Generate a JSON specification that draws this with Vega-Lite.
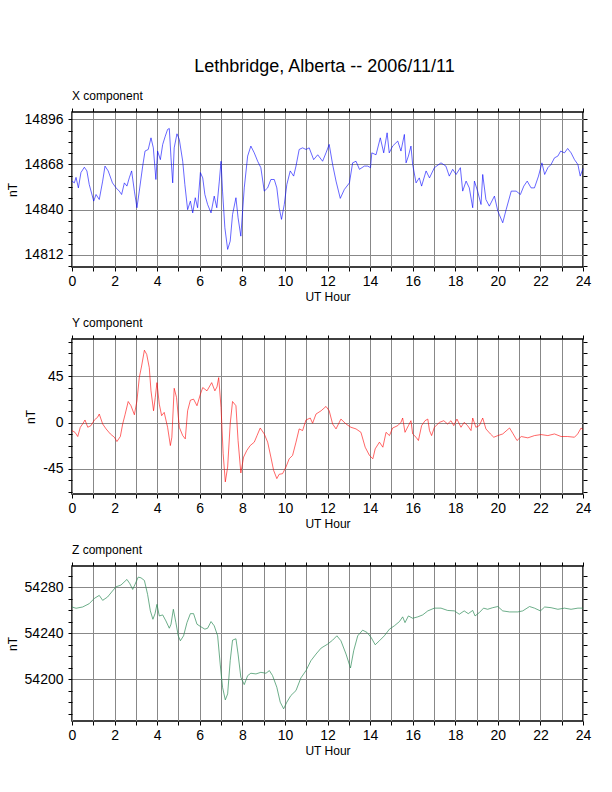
{
"$schema":"https://vega.github.io/schema/vega-lite/v6.json",
"padding":{"left":5,"top":57,"right":0,"bottom":0},
"background":"white",
"title":{"text":"Lethbridge, Alberta -- 2006/11/11","fontSize":18,"fontWeight":"normal","font":"Liberation Sans","anchor":"middle","offset":13,"dx":26,"color":"black"},
"config":{"font":"Liberation Sans","view":{"stroke":"black","strokeWidth":1.5},"axis":{"labelFont":"Liberation Sans","titleFont":"Liberation Sans","labelColor":"black","titleColor":"black","tickColor":"black","domain":false},"title":{"font":"Liberation Sans","color":"black"}},
"spacing":12,
"datasets":{
"x":[{"t":0,"v":14857.7},{"t":0.11,"v":14856.6},{"t":0.19,"v":14860},{"t":0.3,"v":14853.5},{"t":0.42,"v":14863},{"t":0.58,"v":14866.3},{"t":0.7,"v":14864},{"t":0.81,"v":14855.6},{"t":1.02,"v":14845.3},{"t":1.13,"v":14849.4},{"t":1.28,"v":14846.3},{"t":1.44,"v":14857.7},{"t":1.55,"v":14867},{"t":1.7,"v":14864},{"t":1.9,"v":14856.6},{"t":2.07,"v":14853.5},{"t":2.22,"v":14851.5},{"t":2.33,"v":14849.4},{"t":2.46,"v":14856.6},{"t":2.58,"v":14854.6},{"t":2.69,"v":14859.7},{"t":2.8,"v":14864},{"t":2.93,"v":14851.5},{"t":3.05,"v":14841.2},{"t":3.16,"v":14851.5},{"t":3.32,"v":14867},{"t":3.43,"v":14876.3},{"t":3.58,"v":14877.3},{"t":3.71,"v":14884.5},{"t":3.82,"v":14878.3},{"t":3.94,"v":14858.7},{"t":4.02,"v":14876.3},{"t":4.15,"v":14871},{"t":4.26,"v":14880.4},{"t":4.38,"v":14885.5},{"t":4.49,"v":14889.7},{"t":4.57,"v":14890.3},{"t":4.65,"v":14872.1},{"t":4.73,"v":14856.6},{"t":4.8,"v":14878.3},{"t":4.93,"v":14887},{"t":5.04,"v":14883.5},{"t":5.2,"v":14870},{"t":5.3,"v":14855.6},{"t":5.43,"v":14840},{"t":5.56,"v":14845.3},{"t":5.67,"v":14838},{"t":5.79,"v":14847.4},{"t":5.9,"v":14841.2},{"t":6.03,"v":14863},{"t":6.14,"v":14859.7},{"t":6.24,"v":14849.4},{"t":6.37,"v":14843.2},{"t":6.53,"v":14838},{"t":6.68,"v":14848.4},{"t":6.8,"v":14841.2},{"t":6.92,"v":14857.7},{"t":7.0,"v":14870},{"t":7.07,"v":14851.5},{"t":7.18,"v":14828.8},{"t":7.31,"v":14815.4},{"t":7.43,"v":14820.5},{"t":7.54,"v":14837},{"t":7.7,"v":14847.4},{"t":7.8,"v":14835},{"t":7.93,"v":14823.6},{"t":8.09,"v":14853.5},{"t":8.25,"v":14873.2},{"t":8.4,"v":14879.4},{"t":8.56,"v":14875.2},{"t":8.72,"v":14870},{"t":8.87,"v":14866},{"t":9.03,"v":14851.5},{"t":9.19,"v":14853.5},{"t":9.34,"v":14858.7},{"t":9.5,"v":14858.7},{"t":9.62,"v":14853.5},{"t":9.73,"v":14841.2},{"t":9.84,"v":14834},{"t":9.97,"v":14843.2},{"t":10.09,"v":14855.6},{"t":10.25,"v":14864},{"t":10.41,"v":14860.8},{"t":10.52,"v":14867},{"t":10.67,"v":14877.3},{"t":10.83,"v":14878.3},{"t":10.99,"v":14877.3},{"t":11.14,"v":14878.3},{"t":11.35,"v":14871},{"t":11.54,"v":14874},{"t":11.77,"v":14870},{"t":11.93,"v":14875.2},{"t":12.08,"v":14880.4},{"t":12.24,"v":14868},{"t":12.4,"v":14857.7},{"t":12.6,"v":14847},{"t":12.79,"v":14852.5},{"t":13.03,"v":14856.6},{"t":13.18,"v":14869},{"t":13.34,"v":14870},{"t":13.5,"v":14865},{"t":13.73,"v":14867},{"t":13.89,"v":14867},{"t":14.02,"v":14866},{"t":14.08,"v":14875.2},{"t":14.28,"v":14874},{"t":14.48,"v":14884.5},{"t":14.64,"v":14875.2},{"t":14.8,"v":14887.6},{"t":14.9,"v":14875.2},{"t":15.06,"v":14879.4},{"t":15.3,"v":14882.5},{"t":15.45,"v":14876.3},{"t":15.61,"v":14886.6},{"t":15.69,"v":14869},{"t":15.8,"v":14873.2},{"t":15.92,"v":14879.4},{"t":16.0,"v":14868},{"t":16.16,"v":14856.6},{"t":16.31,"v":14859.7},{"t":16.42,"v":14854.6},{"t":16.63,"v":14864},{"t":16.79,"v":14859.7},{"t":17.02,"v":14866},{"t":17.33,"v":14869},{"t":17.56,"v":14867},{"t":17.72,"v":14860.8},{"t":17.88,"v":14865},{"t":18.04,"v":14861.8},{"t":18.24,"v":14866},{"t":18.35,"v":14851.5},{"t":18.51,"v":14857.7},{"t":18.66,"v":14853.5},{"t":18.82,"v":14841.2},{"t":18.9,"v":14857.7},{"t":19.05,"v":14851.5},{"t":19.21,"v":14843.2},{"t":19.29,"v":14861.8},{"t":19.44,"v":14846.3},{"t":19.6,"v":14842.2},{"t":19.84,"v":14848.4},{"t":20.0,"v":14839.1},{"t":20.23,"v":14831.9},{"t":20.39,"v":14840},{"t":20.63,"v":14851.5},{"t":20.86,"v":14851.5},{"t":21.06,"v":14849.4},{"t":21.22,"v":14854.6},{"t":21.38,"v":14857.7},{"t":21.56,"v":14853.5},{"t":21.72,"v":14853.5},{"t":21.91,"v":14860.8},{"t":22.07,"v":14869},{"t":22.2,"v":14861.8},{"t":22.35,"v":14866},{"t":22.5,"v":14868},{"t":22.66,"v":14872.1},{"t":22.82,"v":14873.2},{"t":22.95,"v":14876.3},{"t":23.13,"v":14875.2},{"t":23.28,"v":14877.9},{"t":23.44,"v":14875.2},{"t":23.6,"v":14871},{"t":23.76,"v":14868},{"t":23.87,"v":14860.8},{"t":24.0,"v":14865.5}],
"y":[{"t":0.0,"v":-7.7},{"t":0.14,"v":-9.4},{"t":0.27,"v":-13.5},{"t":0.39,"v":-4.5},{"t":0.5,"v":-1.3},{"t":0.61,"v":2.6},{"t":0.74,"v":-4.5},{"t":0.89,"v":-2.9},{"t":1.05,"v":2.6},{"t":1.2,"v":5.2},{"t":1.28,"v":8.4},{"t":1.44,"v":-1.3},{"t":1.6,"v":-6.1},{"t":1.8,"v":-11},{"t":1.99,"v":-14.2},{"t":2.11,"v":-18.4},{"t":2.27,"v":-13.5},{"t":2.38,"v":-1.3},{"t":2.49,"v":7.7},{"t":2.64,"v":20.6},{"t":2.77,"v":16.5},{"t":2.93,"v":7.7},{"t":3.05,"v":21.3},{"t":3.16,"v":43.9},{"t":3.27,"v":55.2},{"t":3.4,"v":70.6},{"t":3.51,"v":66.5},{"t":3.63,"v":53.5},{"t":3.71,"v":31},{"t":3.83,"v":11.6},{"t":3.91,"v":24.5},{"t":3.99,"v":39},{"t":4.1,"v":18},{"t":4.21,"v":6.8},{"t":4.33,"v":10},{"t":4.49,"v":-4.5},{"t":4.62,"v":-22.3},{"t":4.69,"v":-14.2},{"t":4.8,"v":33.5},{"t":4.91,"v":24.5},{"t":5.04,"v":-4.5},{"t":5.2,"v":-12.6},{"t":5.32,"v":-15.8},{"t":5.43,"v":11.6},{"t":5.56,"v":21.9},{"t":5.71,"v":22.9},{"t":5.87,"v":16.5},{"t":6.03,"v":27.7},{"t":6.14,"v":34.2},{"t":6.34,"v":31},{"t":6.56,"v":39},{"t":6.71,"v":31},{"t":6.81,"v":34.8},{"t":6.89,"v":43.9},{"t":7.0,"v":14.8},{"t":7.1,"v":-30.3},{"t":7.2,"v":-57.7},{"t":7.31,"v":-43.2},{"t":7.43,"v":-1.3},{"t":7.54,"v":20.6},{"t":7.7,"v":16.5},{"t":7.8,"v":-17.4},{"t":7.93,"v":-49},{"t":8.06,"v":-33.5},{"t":8.21,"v":-27.1},{"t":8.37,"v":-22.3},{"t":8.56,"v":-19},{"t":8.69,"v":-12.6},{"t":8.84,"v":-5.2},{"t":9.03,"v":-11},{"t":9.19,"v":-19},{"t":9.34,"v":-33.5},{"t":9.47,"v":-46.5},{"t":9.62,"v":-54.5},{"t":9.73,"v":-50.3},{"t":9.89,"v":-49.7},{"t":10.05,"v":-43.2},{"t":10.2,"v":-35.2},{"t":10.36,"v":-31.9},{"t":10.52,"v":-19},{"t":10.67,"v":-6.1},{"t":10.83,"v":-7.7},{"t":10.99,"v":2.6},{"t":11.19,"v":4.5},{"t":11.3,"v":-0.6},{"t":11.46,"v":8.4},{"t":11.7,"v":11.6},{"t":11.93,"v":15.8},{"t":12.08,"v":11.6},{"t":12.24,"v":-1.3},{"t":12.4,"v":-6.1},{"t":12.63,"v":3.5},{"t":12.87,"v":-1.3},{"t":13.1,"v":-4.5},{"t":13.34,"v":-6.1},{"t":13.57,"v":-9.4},{"t":13.77,"v":-23.9},{"t":13.97,"v":-31.9},{"t":14.13,"v":-35.2},{"t":14.24,"v":-25.5},{"t":14.44,"v":-19},{"t":14.6,"v":-23.9},{"t":14.75,"v":-9.4},{"t":14.91,"v":-12.6},{"t":15.06,"v":-5.2},{"t":15.3,"v":-2.9},{"t":15.45,"v":0.3},{"t":15.53,"v":4.5},{"t":15.64,"v":-9.4},{"t":15.8,"v":-2.9},{"t":15.92,"v":1.9},{"t":16.0,"v":-11},{"t":16.16,"v":-14.2},{"t":16.27,"v":-17.4},{"t":16.42,"v":-2.9},{"t":16.58,"v":1.9},{"t":16.71,"v":3.5},{"t":16.79,"v":-7.7},{"t":16.89,"v":-12.6},{"t":17.02,"v":-4.5},{"t":17.26,"v":0.3},{"t":17.46,"v":1.9},{"t":17.64,"v":-1.3},{"t":17.8,"v":1.9},{"t":17.93,"v":-2.9},{"t":18.08,"v":3.5},{"t":18.27,"v":-4.5},{"t":18.42,"v":0.3},{"t":18.58,"v":-2.9},{"t":18.74,"v":-7.7},{"t":18.82,"v":4.5},{"t":18.97,"v":-4.5},{"t":19.13,"v":-2.9},{"t":19.29,"v":4.5},{"t":19.44,"v":-6.1},{"t":19.65,"v":-11},{"t":19.81,"v":-14.2},{"t":20.0,"v":-12.6},{"t":20.23,"v":-11},{"t":20.55,"v":-5.2},{"t":20.7,"v":-10.3},{"t":20.9,"v":-17.4},{"t":21.1,"v":-13.5},{"t":21.41,"v":-14.8},{"t":21.72,"v":-12.6},{"t":22.03,"v":-11.6},{"t":22.35,"v":-12.6},{"t":22.66,"v":-11},{"t":22.97,"v":-13.5},{"t":23.28,"v":-13.5},{"t":23.6,"v":-14.2},{"t":23.75,"v":-11},{"t":23.91,"v":-5.2},{"t":24.0,"v":-7}],
"z":[{"t":0.0,"v":54262.8},{"t":0.19,"v":54261.7},{"t":0.5,"v":54262.8},{"t":0.81,"v":54265.7},{"t":1.05,"v":54270.3},{"t":1.28,"v":54272.9},{"t":1.44,"v":54268.6},{"t":1.67,"v":54271.5},{"t":1.9,"v":54276.7},{"t":2.07,"v":54280.4},{"t":2.3,"v":54281.9},{"t":2.58,"v":54286.8},{"t":2.72,"v":54283},{"t":2.85,"v":54278.1},{"t":2.96,"v":54282.5},{"t":3.11,"v":54288.8},{"t":3.24,"v":54288.2},{"t":3.4,"v":54285.9},{"t":3.55,"v":54273.8},{"t":3.68,"v":54259.4},{"t":3.8,"v":54252.1},{"t":3.9,"v":54257},{"t":3.99,"v":54265.1},{"t":4.1,"v":54255},{"t":4.26,"v":54255.9},{"t":4.41,"v":54250.7},{"t":4.57,"v":54244.3},{"t":4.65,"v":54247.8},{"t":4.76,"v":54260.8},{"t":4.88,"v":54249.2},{"t":4.99,"v":54237.7},{"t":5.09,"v":54233.4},{"t":5.24,"v":54237.7},{"t":5.4,"v":54249.2},{"t":5.56,"v":54257},{"t":5.71,"v":54257},{"t":5.87,"v":54247.8},{"t":6.06,"v":54245.5},{"t":6.24,"v":54243.5},{"t":6.37,"v":54244.3},{"t":6.53,"v":54250.1},{"t":6.68,"v":54246.4},{"t":6.84,"v":54237.7},{"t":6.96,"v":54213.1},{"t":7.07,"v":54192.9},{"t":7.2,"v":54181.9},{"t":7.31,"v":54187.1},{"t":7.43,"v":54216},{"t":7.54,"v":54233.9},{"t":7.7,"v":54235.1},{"t":7.8,"v":54221.8},{"t":7.93,"v":54201.6},{"t":8.09,"v":54195.2},{"t":8.25,"v":54203},{"t":8.4,"v":54205.1},{"t":8.64,"v":54204.5},{"t":8.87,"v":54205.9},{"t":9.11,"v":54205.1},{"t":9.27,"v":54207.4},{"t":9.42,"v":54203},{"t":9.62,"v":54192.9},{"t":9.78,"v":54179.9},{"t":9.94,"v":54174.1},{"t":10.09,"v":54179.9},{"t":10.28,"v":54185.7},{"t":10.52,"v":54190},{"t":10.75,"v":54201},{"t":10.99,"v":54207.4},{"t":11.22,"v":54216},{"t":11.46,"v":54221.8},{"t":11.7,"v":54227},{"t":12.01,"v":54230.5},{"t":12.24,"v":54233.9},{"t":12.44,"v":54237.7},{"t":12.63,"v":54233.4},{"t":12.87,"v":54221.8},{"t":13.08,"v":54209.7},{"t":13.23,"v":54224.7},{"t":13.42,"v":54237.7},{"t":13.65,"v":54242.6},{"t":13.86,"v":54240.6},{"t":14.05,"v":54236.2},{"t":14.24,"v":54229.9},{"t":14.44,"v":54233.4},{"t":14.67,"v":54237.7},{"t":14.91,"v":54243.5},{"t":15.14,"v":54246.4},{"t":15.38,"v":54250.1},{"t":15.53,"v":54254.2},{"t":15.64,"v":54249.2},{"t":15.8,"v":54255},{"t":16.0,"v":54253},{"t":16.24,"v":54254.2},{"t":16.47,"v":54255.9},{"t":16.71,"v":54259.4},{"t":17.02,"v":54261.8},{"t":17.33,"v":54261.8},{"t":17.64,"v":54259.8},{"t":17.96,"v":54259.4},{"t":18.19,"v":54256.5},{"t":18.42,"v":54259.4},{"t":18.61,"v":54257},{"t":18.82,"v":54259.8},{"t":18.93,"v":54255},{"t":19.13,"v":54257.9},{"t":19.33,"v":54261.8},{"t":19.52,"v":54260.8},{"t":19.76,"v":54262.2},{"t":20.0,"v":54263.2},{"t":20.23,"v":54259.4},{"t":20.55,"v":54258.5},{"t":20.94,"v":54258.5},{"t":21.17,"v":54259.4},{"t":21.49,"v":54263.2},{"t":21.72,"v":54261.8},{"t":22.0,"v":54259.4},{"t":22.2,"v":54262.8},{"t":22.5,"v":54262.2},{"t":22.82,"v":54260.8},{"t":23.13,"v":54261.8},{"t":23.44,"v":54260.8},{"t":23.76,"v":54261.8},{"t":24.0,"v":54261.8}]
},
"vconcat":[
{"width":511,"height":155,"data":{"name":"x"},
"title":{"text":"X component","anchor":"start","frame":"group","fontSize":12,"fontWeight":"normal","offset":5},
"resolve":{"axis":{"x":"independent","y":"independent"}},
"layer":[
{"mark":{"type":"line","opacity":0},
"encoding":{
"x":{"field":"t","type":"quantitative","scale":{"domain":[0,24],"nice":false,"zero":false},"axis":{"orient":"top","values":[0,1,2,3,4,5,6,7,8,9,10,11,12,13,14,15,16,17,18,19,20,21,22,23,24],"labels":false,"title":null,"grid":false,"tickSize":4}},
"y":{"field":"v","type":"quantitative","scale":{"domain":[14804.5,14900.5],"nice":false,"zero":false},"axis":{"orient":"right","values":[14805,14812,14819,14826,14833,14840,14847,14854,14861,14868,14875,14882,14889,14896],"labels":false,"title":null,"grid":false,"tickSize":4}}}},
{"mark":{"type":"line","color":"#0000ff","strokeWidth":0.6},
"encoding":{
"x":{"field":"t","type":"quantitative","scale":{"domain":[0,24],"nice":false,"zero":false},"axis":{"orient":"bottom","values":[0,1,2,3,4,5,6,7,8,9,10,11,12,13,14,15,16,17,18,19,20,21,22,23,24],"labelExpr":"datum.value % 2 === 0 ? datum.label : ''","labelOverlap":false,"labelFlush":false,"labelFontSize":14,"labelPadding":3,"grid":true,"gridColor":"#888888","gridWidth":1,"tickSize":4,"title":"UT Hour","titleFontSize":12,"titleFontWeight":"normal","titlePadding":3}},
"y":{"field":"v","type":"quantitative","scale":{"domain":[14804.5,14900.5],"nice":false,"zero":false},"axis":{"orient":"left","values":[14805,14812,14819,14826,14833,14840,14847,14854,14861,14868,14875,14882,14889,14896],"labelExpr":"datum.value % 28 === 0 ? '' + datum.value : ''","labelOverlap":false,"labelFontSize":14,"labelPadding":5,"grid":true,"gridColor":"#888888","gridOpacity":{"condition":{"test":"datum.value % 28 === 0","value":1},"value":0},"tickSize":4,"title":"nT","titleFontSize":12,"titleFontWeight":"normal","titlePadding":5}}}}
]},
{"width":511,"height":155,"data":{"name":"y"},
"title":{"text":"Y component","anchor":"start","frame":"group","fontSize":12,"fontWeight":"normal","offset":5},
"resolve":{"axis":{"x":"independent","y":"independent"}},
"layer":[
{"mark":{"type":"line","opacity":0},
"encoding":{
"x":{"field":"t","type":"quantitative","scale":{"domain":[0,24],"nice":false,"zero":false},"axis":{"orient":"top","values":[0,1,2,3,4,5,6,7,8,9,10,11,12,13,14,15,16,17,18,19,20,21,22,23,24],"labels":false,"title":null,"grid":false,"tickSize":4}},
"y":{"field":"v","type":"quantitative","scale":{"domain":[-69.5,81.5],"nice":false,"zero":false},"axis":{"orient":"right","values":[-67.5,-56.25,-45,-33.75,-22.5,-11.25,0,11.25,22.5,33.75,45,56.25,67.5,78.75],"labels":false,"title":null,"grid":false,"tickSize":4}}}},
{"mark":{"type":"line","color":"#ff0000","strokeWidth":0.6},
"encoding":{
"x":{"field":"t","type":"quantitative","scale":{"domain":[0,24],"nice":false,"zero":false},"axis":{"orient":"bottom","values":[0,1,2,3,4,5,6,7,8,9,10,11,12,13,14,15,16,17,18,19,20,21,22,23,24],"labelExpr":"datum.value % 2 === 0 ? datum.label : ''","labelOverlap":false,"labelFlush":false,"labelFontSize":14,"labelPadding":3,"grid":true,"gridColor":"#888888","gridWidth":1,"tickSize":4,"title":"UT Hour","titleFontSize":12,"titleFontWeight":"normal","titlePadding":3}},
"y":{"field":"v","type":"quantitative","scale":{"domain":[-69.5,81.5],"nice":false,"zero":false},"axis":{"orient":"left","values":[-67.5,-56.25,-45,-33.75,-22.5,-11.25,0,11.25,22.5,33.75,45,56.25,67.5,78.75],"labelExpr":"datum.value % 45 === 0 ? '' + datum.value : ''","labelOverlap":false,"labelFontSize":14,"labelPadding":5,"grid":true,"gridColor":"#888888","gridOpacity":{"condition":{"test":"datum.value % 45 === 0","value":1},"value":0},"tickSize":4,"title":"nT","titleFontSize":12,"titleFontWeight":"normal","titlePadding":5}}}}
]},
{"width":511,"height":155,"data":{"name":"z"},
"title":{"text":"Z component","anchor":"start","frame":"group","fontSize":12,"fontWeight":"normal","offset":5},
"resolve":{"axis":{"x":"independent","y":"independent"}},
"layer":[
{"mark":{"type":"line","opacity":0},
"encoding":{
"x":{"field":"t","type":"quantitative","scale":{"domain":[0,24],"nice":false,"zero":false},"axis":{"orient":"top","values":[0,1,2,3,4,5,6,7,8,9,10,11,12,13,14,15,16,17,18,19,20,21,22,23,24],"labels":false,"title":null,"grid":false,"tickSize":4}},
"y":{"field":"v","type":"quantitative","scale":{"domain":[54163.5,54298.5],"nice":false,"zero":false},"axis":{"orient":"right","values":[54170,54180,54190,54200,54210,54220,54230,54240,54250,54260,54270,54280,54290],"labels":false,"title":null,"grid":false,"tickSize":4}}}},
{"mark":{"type":"line","color":"#2e8b57","strokeWidth":0.7},
"encoding":{
"x":{"field":"t","type":"quantitative","scale":{"domain":[0,24],"nice":false,"zero":false},"axis":{"orient":"bottom","values":[0,1,2,3,4,5,6,7,8,9,10,11,12,13,14,15,16,17,18,19,20,21,22,23,24],"labelExpr":"datum.value % 2 === 0 ? datum.label : ''","labelOverlap":false,"labelFlush":false,"labelFontSize":14,"labelPadding":3,"grid":true,"gridColor":"#888888","gridWidth":1,"tickSize":4,"title":"UT Hour","titleFontSize":12,"titleFontWeight":"normal","titlePadding":3}},
"y":{"field":"v","type":"quantitative","scale":{"domain":[54163.5,54298.5],"nice":false,"zero":false},"axis":{"orient":"left","values":[54170,54180,54190,54200,54210,54220,54230,54240,54250,54260,54270,54280,54290],"labelExpr":"datum.value % 40 === 0 ? '' + datum.value : ''","labelOverlap":false,"labelFontSize":14,"labelPadding":5,"grid":true,"gridColor":"#888888","gridOpacity":{"condition":{"test":"datum.value % 40 === 0","value":1},"value":0},"tickSize":4,"title":"nT","titleFontSize":12,"titleFontWeight":"normal","titlePadding":5}}}}
]}
]}
